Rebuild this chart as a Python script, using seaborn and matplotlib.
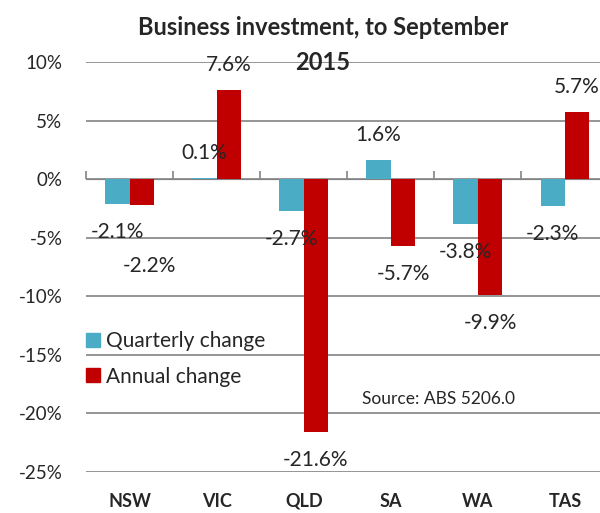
import numpy as np
import pandas as pd
import seaborn as sns
import matplotlib.pyplot as plt

# chart values
states = ['NSW', 'VIC', 'QLD', 'SA', 'WA', 'TAS']
quarterly = [-2.1, 0.1, -2.7, 1.6, -3.8, -2.3]
annual = [-2.2, 7.6, -21.6, -5.7, -9.9, 5.7]
series = ['Quarterly change', 'Annual change']
yticks = [10, 5, 0, -5, -10, -15, -20, -25]

df = pd.DataFrame({
    'state': states * 2,
    'change': quarterly + annual,
    'series': [series[0]] * len(states) + [series[1]] * len(states),
})

sns.set_style('white')
plt.rcParams['font.family'] = ['Lato', 'DejaVu Sans']

colors = {'Quarterly change': '#4bacc6', 'Annual change': '#c00000'}
grid_col = '#8c8c8c'

fig = plt.figure(figsize=(6, 5.13), dpi=100)
ax = fig.add_axes([86 / 600, 41 / 513, 514 / 600, 410 / 513])

sns.barplot(data=df, x='state', y='change', hue='series', palette=colors,
            width=0.56, saturation=1, edgecolor='none', ax=ax, legend=False)

ax.set_ylim(-25, 10)
ax.set_xlim(-0.5, 5.5 - 8.5 / 87)
ax.set_yticks(yticks)
ax.set_yticklabels([f'{v}%' for v in yticks], fontsize=13.5)
ax.tick_params(axis='y', length=0, pad=17)
ax.set_xticks(range(len(states)))
ax.set_xticklabels(states, fontsize=13, fontweight='bold')
ax.tick_params(axis='x', length=0, pad=15)
ax.set_xlabel('')
ax.set_ylabel('')
ax.grid(axis='y', color=grid_col, linewidth=1.3)
ax.set_axisbelow(True)
for s in ax.spines.values():
    s.set_visible(False)

# horizontal axis crossing at zero with category boundary ticks
zero_pos = (0 - ax.get_ylim()[0]) / (ax.get_ylim()[1] - ax.get_ylim()[0])
sec = ax.secondary_xaxis(zero_pos)
sec.set_xticks(np.arange(len(states)) - 0.5)
sec.set_xticklabels([])
sec.tick_params(length=6, width=1.3, color=grid_col, direction='out')
sec.spines['bottom'].set_color(grid_col)
sec.spines['bottom'].set_linewidth(1.3)

# data labels
for cont, vals in zip(ax.containers, [quarterly, annual]):
    for bar, v in zip(cont, vals):
        x = bar.get_x() + bar.get_width() / 2
        dx, dy = 0, (25 if v >= 0 else -28)
        if v == -2.2:
            dx, dy = 8, -61
        ax.annotate(f'{v}%', (x, v), xytext=(dx, dy), textcoords='offset pixels',
                    ha='center', va='center', fontsize=15)

# legend
handles = [plt.Rectangle((0, 0), 1, 1, color=colors[s]) for s in series]
fig.legend(handles, series, loc='upper left', bbox_to_anchor=(86 / 600, 1 - 331 / 513),
           frameon=False, fontsize=15, handlelength=0.68, handleheight=0.68,
           handletextpad=0.3, labelspacing=0.75, borderpad=0, borderaxespad=0)

fig.text(362 / 600, 1 - 399 / 513, 'Source: ABS 5206.0', fontsize=12.5, va='center')
fig.text(323 / 600, 1 - 45 / 513, 'Business investment, to September\n2015',
         ha='center', va='center', fontsize=17, fontweight='bold', linespacing=1.65)

plt.savefig('out.png', dpi=100)
